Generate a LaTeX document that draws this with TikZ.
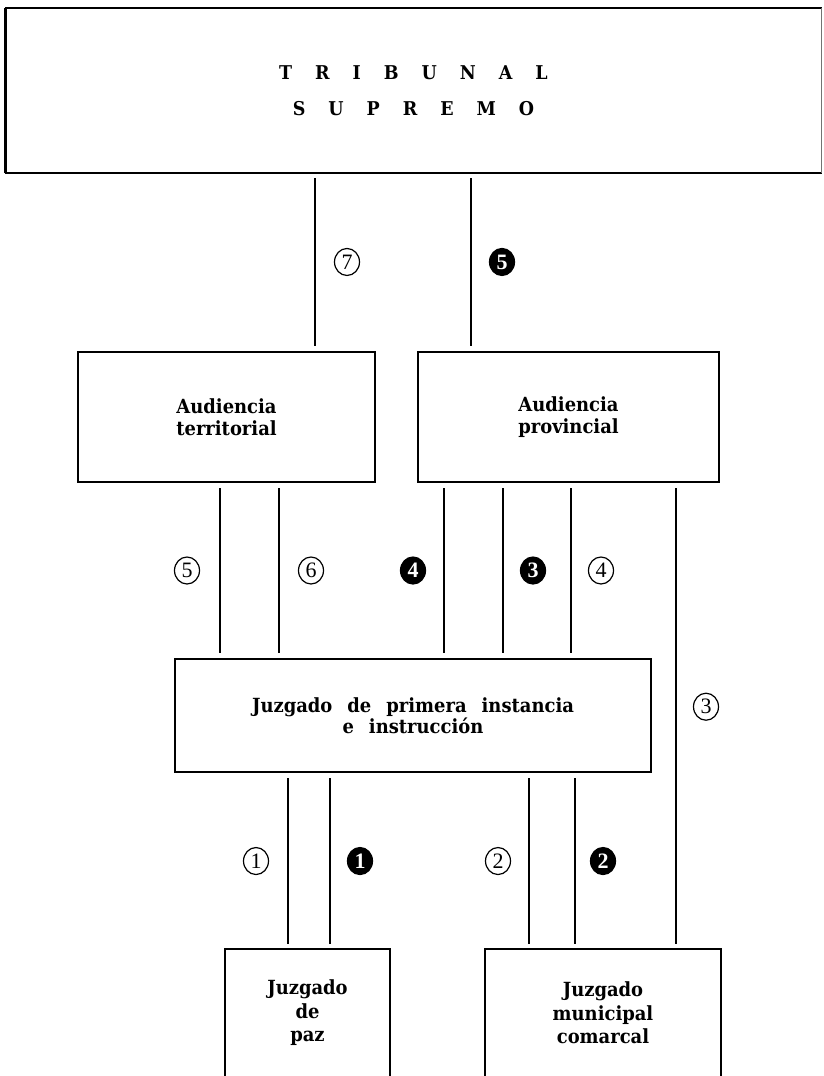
\documentclass[tikz,border=0pt]{standalone}
\usepackage{fontspec}
\setmainfont{DejaVu Serif}[FakeStretch=0.92]
\newfontfamily\numfont{Liberation Serif}
\usetikzlibrary{shapes.geometric}
\newcommand\capgap{\hspace{23pt}}
\newcommand\wordgap{\hspace{15pt}}

\begin{document}
\begin{tikzpicture}[x=1pt,y=-1pt,
  court/.style={rectangle, inner sep=0pt, align=center,
    font=\bfseries\fontsize{19.5}{21.5}\selectfont},
  framed/.style={court, draw, line width=2.5pt},
  edge/.style={line width=2.5pt, line cap=rect},
  conn/.style={line width=2.5pt, shorten <=5pt, shorten >=5pt},
  ring/.style={ellipse, draw, line width=1.2pt, minimum width=25pt,
    minimum height=27pt, inner sep=0pt,
    font=\numfont\fontsize{22}{22}\selectfont},
  disc/.style={ring, fill=black, text=white,
    font=\numfont\bfseries\fontsize{22}{22}\selectfont},
]
\useasboundingbox (0,0) rectangle (823,1076);
\clip (0,0) rectangle (823,1076);

% courts
\node[court, minimum width=815pt, minimum height=165pt,
      font=\bfseries\fontsize{19}{20}\selectfont]
  (trib) at (413.5,90.5)
  {T\capgap R\capgap I\capgap B\capgap U\capgap N\capgap A\capgap L\\[16pt]
   S\capgap U\capgap P\capgap R\capgap E\capgap M\capgap O};
\draw[edge] (trib.south east) -- (trib.south west);
\draw[edge] (trib.north west) -- (trib.north east);
\draw[line width=3.2pt] (trib.south west) -- (trib.north west);
\draw[line width=0.8pt, black!55] (trib.north east) -- (trib.south east);

\node[framed, minimum width=297pt, minimum height=130pt]
  (terr) at (226.5,417) {Audiencia\\territorial};
\node[framed, minimum width=301pt, minimum height=130pt]
  (prov) at (568.5,417) {Audiencia\\provincial};

\node[framed, minimum width=476pt, minimum height=113pt]
  (juz) at (413,715.5)
  {Juzgado\wordgap de\wordgap primera\wordgap instancia\\e\wordgap instrucción};

\node[court, minimum width=165pt, minimum height=128pt,
      font=\bfseries\fontsize{19.5}{23.5}\selectfont]
  (paz) at (307.5,1013) {Juzgado\\de\\paz};
\draw[edge] ([yshift=-30pt]paz.south west) -- (paz.north west)
  -- (paz.north east) -- ([yshift=-30pt]paz.south east);

\node[court, minimum width=236pt, minimum height=128pt,
      font=\bfseries\fontsize{19.5}{23.5}\selectfont]
  (com) at (603,1013) {Juzgado\\municipal\\comarcal};
\draw[edge] ([yshift=-30pt]com.south west) -- (com.north west)
  -- (com.north east) -- ([yshift=-30pt]com.south east);

% Tribunal Supremo -- Audiencias
\draw[conn] (315,0 |- trib.south) -- (315,0 |- terr.north)
  node[ring, midway, xshift=32pt] (r7) {7};
\draw[conn] (471,0 |- trib.south) -- (471,0 |- prov.north)
  node[disc, midway, xshift=31pt] (b5) {5};

% Audiencia territorial -- Juzgado de primera instancia
\draw[conn] (220,0 |- terr.south) -- (220,0 |- juz.north)
  node[ring, midway, xshift=-33pt] (r5) {5};
\draw[conn] (279,0 |- terr.south) -- (279,0 |- juz.north)
  node[ring, midway, xshift=32pt] (r6) {6};

% Audiencia provincial -- Juzgado de primera instancia
\draw[conn] (444,0 |- prov.south) -- (444,0 |- juz.north)
  node[disc, midway, xshift=-31pt] (b4) {4};
\draw[conn] (503,0 |- prov.south) -- (503,0 |- juz.north)
  node[disc, midway, xshift=30pt] (b3) {3};
\draw[conn] (571,0 |- prov.south) -- (571,0 |- juz.north)
  node[ring, midway, xshift=30pt] (r4) {4};

% Audiencia provincial -- Juzgado municipal comarcal
\draw[conn] (676,0 |- prov.south) -- (676,0 |- com.north)
  node[ring, pos=0.48, xshift=30pt] (r3) {3};

% Juzgado de primera instancia -- Juzgados de paz y comarcal
\draw[conn] (288,0 |- juz.south) -- (288,0 |- paz.north)
  node[ring, midway, xshift=-32pt] (r1) {1};
\draw[conn] (330,0 |- juz.south) -- (330,0 |- paz.north)
  node[disc, midway, xshift=30pt] (b1) {1};
\draw[conn] (529,0 |- juz.south) -- (529,0 |- com.north)
  node[ring, midway, xshift=-31pt] (r2) {2};
\draw[conn] (575,0 |- juz.south) -- (575,0 |- com.north)
  node[disc, midway, xshift=28pt] (b2) {2};
\end{tikzpicture}
\end{document}
